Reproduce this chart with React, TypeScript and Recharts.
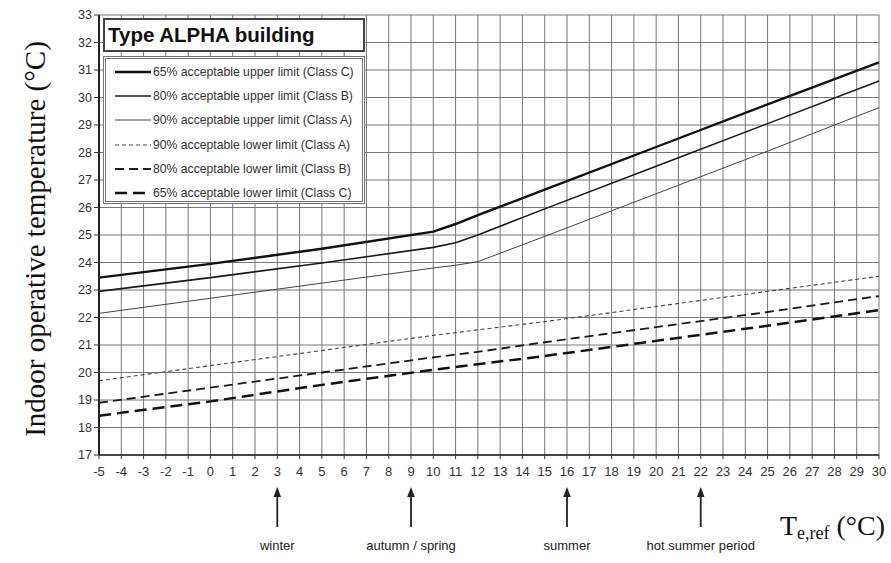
import React from 'react';
import { LineChart, Line, XAxis, YAxis, CartesianGrid, ReferenceDot } from 'recharts';

// Outdoor reference temperature (°C) at which values were read
const xValues = [-5, 0, 5, 10, 11, 12, 15, 20, 25, 30];
// Indoor operative temperature limits (°C)
const upperC = [23.45, 23.95, 24.5, 25.12, 25.4, 25.72, 26.65, 28.2, 29.75, 31.28];
const upperB = [22.95, 23.45, 23.98, 24.55, 24.72, 25.0, 25.95, 27.5, 29.05, 30.6];
const upperA = [22.15, 22.7, 23.25, 23.8, 23.9, 24.03, 24.95, 26.5, 28.05, 29.63];
const lowerA = [19.7, 20.25, 20.8, 21.35, 21.45, 21.55, 21.85, 22.4, 22.95, 23.5];
const lowerB = [18.9, 19.45, 20.0, 20.55, 20.65, 20.75, 21.1, 21.65, 22.2, 22.78];
const lowerC = [18.43, 18.95, 19.55, 20.1, 20.2, 20.3, 20.6, 21.15, 21.7, 22.27];

const xTicks = [-5, -4, -3, -2, -1, 0, 1, 2, 3, 4, 5, 6, 7, 8, 9, 10, 11, 12, 13, 14, 15, 16, 17, 18, 19, 20, 21, 22, 23, 24, 25, 26, 27, 28, 29, 30];
const yTicks = [17, 18, 19, 20, 21, 22, 23, 24, 25, 26, 27, 28, 29, 30, 31, 32, 33];

const seasonX = [3, 9, 16, 22];
const seasonLabels = ['winter', 'autumn / spring', 'summer', 'hot summer period'];

const seriesKeys = ['upperC', 'upperB', 'upperA', 'lowerA', 'lowerB', 'lowerC'];
const seriesNames = [
  '65% acceptable upper limit (Class C)',
  '80% acceptable upper limit (Class B)',
  '90% acceptable upper limit (Class A)',
  '90% acceptable lower limit (Class A)',
  '80% acceptable lower limit (Class B)',
  '65% acceptable lower limit (Class C)',
];
const seriesValues = [upperC, upperB, upperA, lowerA, lowerB, lowerC];

const seriesStyle = [
  { stroke: '#111', width: 2.4, dash: undefined as string | undefined },
  { stroke: '#1a1a1a', width: 1.6, dash: undefined as string | undefined },
  { stroke: '#444', width: 1.0, dash: undefined as string | undefined },
  { stroke: '#444', width: 1.1, dash: '4 3' },
  { stroke: '#1a1a1a', width: 1.8, dash: '9 5' },
  { stroke: '#111', width: 2.5, dash: '12 6' },
];

const data = xValues.map((x, i) => {
  const row: Record<string, number> = { x };
  seriesKeys.forEach((k, j) => {
    row[k] = seriesValues[j][i];
  });
  return row;
});

const sans = '"Liberation Sans", Arial, Helvetica, sans-serif';
const serif = '"Liberation Serif", "Times New Roman", Times, serif';

const SeasonMarker = (label: string) => (props: any) => {
  const { cx, cy } = props;
  if (cx == null || cy == null) return <g />;
  const tip = cy + 32;
  const tail = cy + 72;
  return (
    <g>
      <line x1={cx} y1={tip + 8} x2={cx} y2={tail} stroke="#222" strokeWidth={1.8} />
      <path d={`M ${cx} ${tip} L ${cx - 3.8} ${tip + 10} L ${cx + 3.8} ${tip + 10} Z`} fill="#222" />
      <text x={cx} y={cy + 95} textAnchor="middle" fontFamily={sans} fontSize={13} fill="#222">
        {label}
      </text>
    </g>
  );
};

const AxisTitleX = (props: any) => {
  const { cx, cy } = props;
  if (cx == null || cy == null) return <g />;
  return (
    <text x={cx + 6} y={cy + 80} textAnchor="end" fontFamily={serif} fontSize={28} fill="#111">
      <tspan>T</tspan>
      <tspan fontSize={18} dy={4}>e,ref</tspan>
      <tspan dy={-4}> (°C)</tspan>
    </text>
  );
};

const LegendBox = () => (
  <div style={{ position: 'absolute', left: 103, top: 18, width: 262, fontFamily: sans }}>
    <div
      style={{
        boxSizing: 'border-box',
        height: 34,
        border: '2px solid #444',
        background: '#fff',
        fontWeight: 'bold',
        fontSize: 20.5,
        lineHeight: '30px',
        paddingLeft: 3,
        color: '#111',
        whiteSpace: 'nowrap',
      }}
    >
      Type ALPHA building
    </div>
    <div
      style={{
        boxSizing: 'border-box',
        marginTop: 4,
        height: 148,
        border: '3px double #777',
        background: '#fff',
        paddingTop: 1,
      }}
    >
      {seriesNames.map((name, i) => (
        <div key={name} style={{ display: 'flex', alignItems: 'center', height: 24.2 }}>
          <svg width={38} height={10} style={{ marginLeft: 9, flex: 'none' }}>
            <line
              x1={0}
              y1={5}
              x2={36}
              y2={5}
              stroke={seriesStyle[i].stroke}
              strokeWidth={seriesStyle[i].width}
              strokeDasharray={seriesStyle[i].dash}
            />
          </svg>
          <span style={{ fontSize: 12.2, color: '#333', whiteSpace: 'nowrap' }}>{name}</span>
        </div>
      ))}
    </div>
  </div>
);

export default function App() {
  return (
    <div style={{ position: 'absolute', left: 0, top: 0, width: 891, height: 563, background: '#fff' }}>
      <LineChart width={891} height={563} data={data} margin={{ top: 15, right: 12, bottom: 78, left: 69 }}>
        <CartesianGrid stroke="#777" strokeWidth={1} />
        <XAxis
          type="number"
          dataKey="x"
          domain={[-5, 30]}
          ticks={xTicks}
          interval={0}
          height={30}
          tickSize={4}
          tickMargin={8}
          tick={{ fontSize: 13, fill: '#333', fontFamily: sans }}
          tickLine={{ stroke: '#333' }}
          axisLine={{ stroke: '#222', strokeWidth: 1.5 }}
        />
        <YAxis
          type="number"
          domain={[17, 33]}
          ticks={yTicks}
          interval={0}
          width={30}
          tickSize={5}
          tickMargin={2}
          tick={{ fontSize: 12.5, fill: '#333', fontFamily: sans }}
          tickLine={{ stroke: '#333' }}
          axisLine={{ stroke: '#222', strokeWidth: 2 }}
          label={{
            content: () => (
              <text
                x={35}
                y={239}
                transform="rotate(-90 35 239)"
                textAnchor="middle"
                dominantBaseline="central"
                fontFamily={serif}
                fontSize={29}
                fill="#111"
              >
                Indoor operative temperature (°C)
              </text>
            ),
          }}
        />
        {seriesKeys.map((k, i) => (
          <Line
            key={k}
            type="linear"
            dataKey={k}
            name={seriesNames[i]}
            stroke={seriesStyle[i].stroke}
            strokeWidth={seriesStyle[i].width}
            strokeDasharray={seriesStyle[i].dash}
            dot={false}
            activeDot={false}
            isAnimationActive={false}
          />
        ))}
        {seasonX.map((s, i) => (
          <ReferenceDot key={s} x={s} y={17} r={0} ifOverflow="visible" shape={SeasonMarker(seasonLabels[i])} />
        ))}
        <ReferenceDot x={30} y={17} r={0} ifOverflow="visible" shape={AxisTitleX} />
      </LineChart>
      <LegendBox />
    </div>
  );
}
